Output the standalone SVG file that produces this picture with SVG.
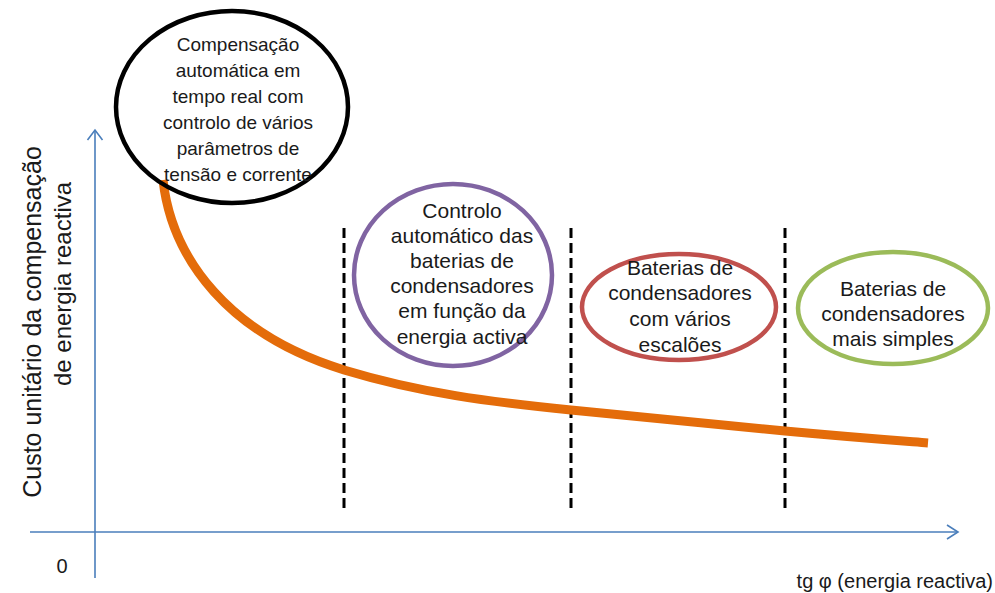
<svg xmlns="http://www.w3.org/2000/svg" width="995" height="593" viewBox="0 0 995 593">
<style>
  .t { font-family: "Liberation Sans", Arial, sans-serif; fill: #1a1a1a; text-anchor: middle; }
  .tb { font-size: 19px; }
  .tn { font-size: 21px; }
  .ax { font-family: "Liberation Sans", Arial, sans-serif; fill: #1a1a1a; }
  .axis { stroke: #4A7EBB; stroke-width: 1.6; fill: none; }
  .dash { stroke: #000; stroke-width: 3; stroke-dasharray: 10 5; fill: none; }
  .ell { fill: none; stroke-width: 4.5; }
</style>
<rect width="995" height="593" fill="#ffffff"/>

<g id="axes">
  <line class="axis" x1="95" y1="130" x2="95" y2="578"/>
  <polyline class="axis" points="87.5,140 95,130 102.5,140"/>
  <line class="axis" x1="30" y1="532" x2="958" y2="532"/>
  <polyline class="axis" points="947,525 958,532 947,539"/>
  <text class="ax" x="62" y="573" font-size="20" text-anchor="middle">0</text>
  <text class="ax" x="993" y="588" font-size="20" text-anchor="end">tg φ (energia reactiva)</text>
  <text class="ax" font-size="25" text-anchor="middle" transform="translate(41,322) rotate(-90)">Custo unitário da compensação</text>
  <text class="ax" font-size="24" text-anchor="middle" transform="translate(71,284) rotate(-90)">de energia reactiva</text>
</g>

<g id="connectors">
  <line class="dash" x1="344" y1="228" x2="344" y2="510"/>
  <line class="dash" x1="571" y1="228" x2="571" y2="510"/>
  <line class="dash" x1="785" y1="228" x2="785" y2="510"/>
  <path d="M163,180 C172,260 230,335 344,370 C420,393 490,402 571,410 C650,418 720,425 785,431 C850,437 890,440 928,443" fill="none" stroke="#E46C0A" stroke-width="9"/>
</g>

<g id="node-tempo-real">
  <ellipse class="ell" cx="232" cy="107" rx="116" ry="96" stroke="#000000"/>
  <text class="t tb" x="238" y="51">Compensação</text>
  <text class="t tb" x="238" y="77">automática em</text>
  <text class="t tb" x="238" y="103">tempo real com</text>
  <text class="t tb" x="238" y="129">controlo de vários</text>
  <text class="t tb" x="238" y="155">parâmetros de</text>
  <text class="t tb" x="238" y="181">tensão e corrente</text>
</g>

<g id="node-energia-activa">
  <ellipse class="ell" cx="453" cy="275" rx="99" ry="91" stroke="#8064A2"/>
  <text class="t tn" x="462" y="218">Controlo</text>
  <text class="t tn" x="462" y="243">automático das</text>
  <text class="t tn" x="462" y="268">baterias de</text>
  <text class="t tn" x="462" y="293">condensadores</text>
  <text class="t tn" x="462" y="318">em função da</text>
  <text class="t tn" x="462" y="344">energia activa</text>
</g>

<g id="node-escaloes">
  <ellipse class="ell" cx="679" cy="307" rx="97" ry="53" stroke="#C0504D"/>
  <text class="t tn" x="680" y="275">Baterias de</text>
  <text class="t tn" x="680" y="300">condensadores</text>
  <text class="t tn" x="680" y="326">com vários</text>
  <text class="t tn" x="680" y="352">escalões</text>
</g>

<g id="node-simples">
  <ellipse class="ell" cx="893" cy="308" rx="95" ry="56" stroke="#9BBB59"/>
  <text class="t tn" x="893" y="296">Baterias de</text>
  <text class="t tn" x="893" y="321">condensadores</text>
  <text class="t tn" x="893" y="346">mais simples</text>
</g>
</svg>
